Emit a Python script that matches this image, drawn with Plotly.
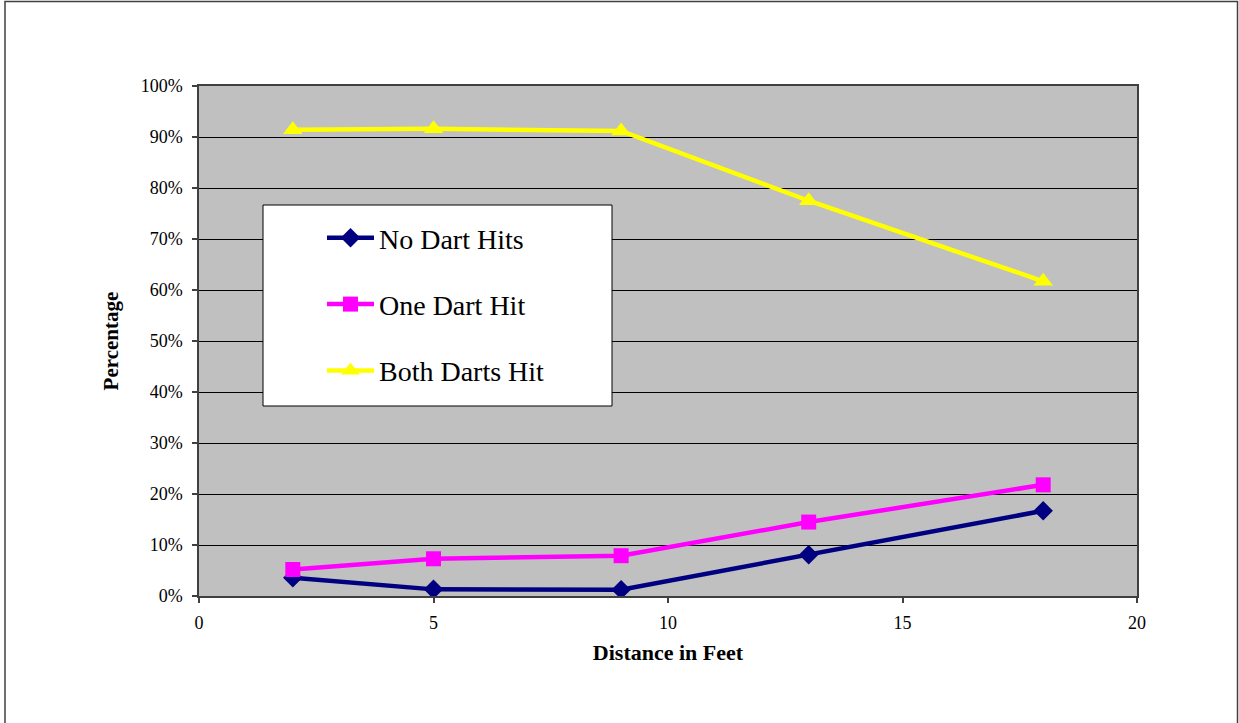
import plotly.graph_objects as go

distance = [2, 5, 9, 13, 18]
no_dart_hits = [0.036, 0.013, 0.0125, 0.081, 0.167]
one_dart_hit = [0.052, 0.073, 0.079, 0.145, 0.218]
both_darts_hit = [0.914, 0.916, 0.912, 0.775, 0.617]
series_names = ["No Dart Hits", "One Dart Hit", "Both Darts Hit"]
y_ticks = [0, 0.1, 0.2, 0.3, 0.4, 0.5, 0.6, 0.7, 0.8, 0.9, 1.0]
x_ticks = [0, 5, 10, 15, 20]

FONT = "Liberation Serif, Times New Roman, serif"
W, H = 1239, 723
L, R, T, B = 199, 102, 86, 127
PW, PH = W - L - R, H - T - B

def px2paper_x(px):
    return (px - L) / PW

def px2paper_y(py):
    return (H - B - py) / PH

fig = go.Figure()
fig.add_trace(go.Scatter(
    x=distance, y=no_dart_hits, name=series_names[0], mode="lines+markers",
    line=dict(color="#000080", width=4.5),
    marker=dict(symbol="diamond", size=15, color="#000080"),
    legendgroup="a"))
fig.add_trace(go.Scatter(
    x=distance, y=one_dart_hit, name=series_names[1], mode="lines+markers",
    line=dict(color="#FF00FF", width=4.5),
    marker=dict(symbol="square", size=15, color="#FF00FF"),
    legendgroup="b"))
fig.add_trace(go.Scatter(
    x=distance, y=both_darts_hit, name=series_names[2], mode="lines+markers",
    line=dict(color="#FFFF00", width=4.5),
    marker=dict(symbol="triangle-up", size=17, color="#FFFF00"),
    legendgroup="c"))

shapes = [
    # legend box
    dict(type="rect", xref="paper", yref="paper",
         x0=px2paper_x(263), x1=px2paper_x(612),
         y0=px2paper_y(406), y1=px2paper_y(205),
         fillcolor="white", line=dict(color="black", width=1), layer="above"),
    # outer chart border
    dict(type="rect", xref="paper", yref="paper",
         x0=px2paper_x(5), x1=px2paper_x(1237.5),
         y0=px2paper_y(730), y1=px2paper_y(1.5),
         fillcolor="rgba(0,0,0,0)", line=dict(color="#404040", width=1.5), layer="above"),
]

fig.update_layout(
    width=W, height=H,
    margin=dict(l=L, r=R, t=T, b=B, autoexpand=False),
    paper_bgcolor="white", plot_bgcolor="#C0C0C0",
    font=dict(family=FONT, color="black", size=18),
    showlegend=True,
    legend=dict(
        x=px2paper_x(322), y=px2paper_y(213), xanchor="left", yanchor="top",
        bgcolor="rgba(0,0,0,0)", borderwidth=0,
        font=dict(family=FONT, size=28, color="black"),
        traceorder="grouped", tracegroupgap=27, itemwidth=47,
    ),
    shapes=shapes,
    xaxis=dict(
        range=[0, 20], tickvals=x_ticks, ticktext=[str(v) for v in x_ticks],
        showgrid=False, zeroline=False,
        showline=True, linecolor="#404040", linewidth=1.5, mirror=True,
        ticks="outside", ticklen=5, tickcolor="#404040", tickwidth=1.5,
        ticklabelstandoff=5,
        tickfont=dict(family=FONT, size=18),
        title=dict(text="<b>Distance in Feet</b>", font=dict(family=FONT, size=22), standoff=12),
    ),
    yaxis=dict(
        range=[0, 1], tickvals=y_ticks, tickformat=".0%",
        showgrid=True, gridcolor="black", gridwidth=1, zeroline=False,
        showline=True, linecolor="#404040", linewidth=1.5, mirror=True,
        ticks="outside", ticklen=5, tickcolor="#404040", tickwidth=1.5,
        ticklabelstandoff=6,
        tickfont=dict(family=FONT, size=18),
        title=dict(text="<b>Percentage</b>", font=dict(family=FONT, size=21), standoff=16),
    ),
)

fig.write_html("out.html")
